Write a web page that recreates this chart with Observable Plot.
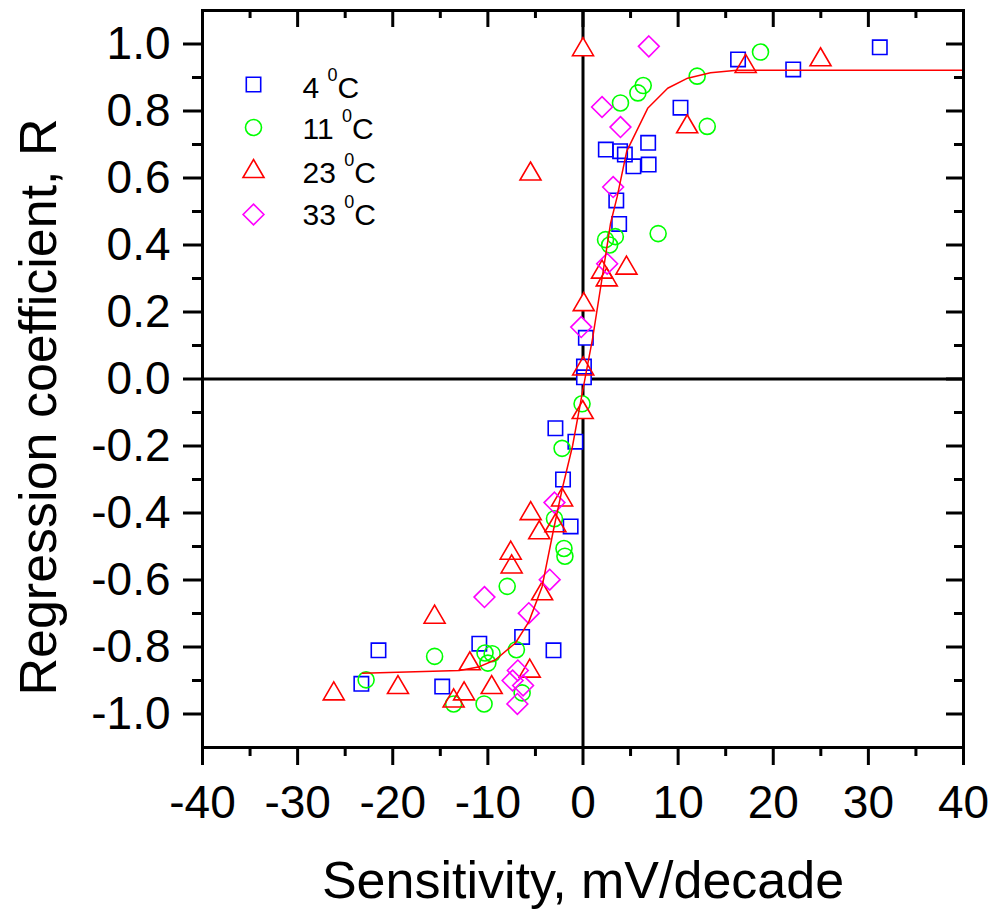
<!DOCTYPE html>
<html><head><meta charset="utf-8">
<script src="https://cdn.jsdelivr.net/npm/d3@7"></script>
<script src="https://cdn.jsdelivr.net/npm/@observablehq/plot@0.6"></script>
<style>html,body{margin:0;padding:0;background:#fff;} #chart{width:997px;height:913px;}</style>
</head><body><div id="chart"></div><script>
// ---- data ----
const seriesKeys = ["4", "11", "23", "33"];
const seriesColors = ["#0000ff", "#00ff00", "#ff0000", "#ff00ff"];

const x4 = [31.2, 16.3, 22.1, 10.25, 6.85, 2.4, 3.9, 4.4, 5.3, 6.9, 3.5, 3.8, 0.3, 0.1, 0.1, -2.9, -0.8, -2.1, -1.3, -21.5, -23.3, -14.8, -10.9, -6.4, -3.1];
const y4 = [0.99, 0.954, 0.924, 0.81, 0.705, 0.685, 0.68, 0.67, 0.635, 0.64, 0.533, 0.463, 0.123, 0.037, 0.005, -0.147, -0.187, -0.30, -0.44, -0.81, -0.91, -0.918, -0.79, -0.77, -0.81];

const x11 = [18.66, 12.0, 6.33, 5.77, 3.94, 13.06, 7.9, 2.37, 3.4, 2.8, -0.1, -2.2, -3.0, -2.0, -1.9, -7.97, -15.6, -22.8, -10.3, -9.55, -10.0, -7.0, -13.6, -10.4, -6.4];
const y11 = [0.976, 0.904, 0.876, 0.854, 0.824, 0.754, 0.434, 0.416, 0.425, 0.40, -0.074, -0.207, -0.417, -0.506, -0.529, -0.619, -0.828, -0.898, -0.818, -0.82, -0.848, -0.808, -0.97, -0.97, -0.937];

const x23 = [0.0, 10.95, 17.1, 24.97, -5.52, 4.57, 2.0, 2.5, 0.08, 0.02, -0.03, -5.5, -4.6, -2.9, -7.6, -7.5, -4.3, -2.2, -15.6, -26.2, -19.45, -11.9, -13.6, -12.5, -9.6, -5.6];
const y23 = [0.983, 0.753, 0.933, 0.953, 0.612, 0.331, 0.319, 0.296, 0.222, 0.030, -0.10, -0.402, -0.459, -0.438, -0.52, -0.561, -0.641, -0.361, -0.711, -0.94, -0.921, -0.85, -0.961, -0.94, -0.921, -0.872];

const x33 = [6.92, 2.0, 3.94, 3.17, 2.54, -0.19, -3.0, -3.5, -10.36, -5.7, -6.85, -7.4, -6.3, -6.9];
const y33 = [0.993, 0.812, 0.752, 0.573, 0.344, 0.155, -0.369, -0.599, -0.651, -0.699, -0.87, -0.90, -0.915, -0.97];

const fitX = [-23.2, -13.0, -11.0, -9.2, -7.1, -5.7, -4.3, -3.1, -2.2, -1.1, 0.0, 1.0, 2.0, 2.9, 3.6, 4.6, 6.8, 8.9, 11.0, 13.4, 16.2, 40];
const fitY = [-0.878, -0.870, -0.860, -0.838, -0.788, -0.725, -0.620, -0.450, -0.330, -0.200, -0.030, 0.120, 0.300, 0.465, 0.545, 0.680, 0.808, 0.868, 0.898, 0.914, 0.922, 0.922];

const xMajor = [-40, -30, -20, -10, 0, 10, 20, 30, 40];
const xTickLabels = ["-40", "-30", "-20", "-10", "0", "10", "20", "30", "40"];
const xMinor = [-35, -25, -15, -5, 5, 15, 25, 35];
const yMajor = [-1.0, -0.8, -0.6, -0.4, -0.2, 0.0, 0.2, 0.4, 0.6, 0.8, 1.0];
const yTickLabels = ["-1.0", "-0.8", "-0.6", "-0.4", "-0.2", "0.0", "0.2", "0.4", "0.6", "0.8", "1.0"];
const yMinor = [-0.9, -0.7, -0.5, -0.3, -0.1, 0.1, 0.3, 0.5, 0.7, 0.9];

const xTitle = "Sensitivity, mV/decade";
const yTitle = "Regression coefficient, R";

// ---- symbols ----
const sqSym = {draw(c, size) { const s = Math.sqrt(size / Math.PI) * 0.9; c.moveTo(-s, -s); c.lineTo(s, -s); c.lineTo(s, s); c.lineTo(-s, s); c.closePath(); }};
const ciSym = {draw(c, size) { const u = Math.sqrt(size / Math.PI); c.moveTo(u, 0); c.arc(0, 0, u, 0, 2 * Math.PI); c.closePath(); }};
const trSym = {draw(c, size) { const u = Math.sqrt(size / Math.PI); c.moveTo(0, -1.5 * u); c.lineTo(1.3125 * u, 0.75 * u); c.lineTo(-1.3125 * u, 0.75 * u); c.closePath(); }};
const diSym = {draw(c, size) { const u = Math.sqrt(size / Math.PI) * 1.3; c.moveTo(0, -u); c.lineTo(u, 0); c.lineTo(0, u); c.lineTo(-u, 0); c.closePath(); }};
const seriesSymbols = [sqSym, ciSym, trSym, diSym];

const xs = [x4, x11, x23, x33];
const ys = [y4, y11, y23, y33];

// ---- layout ----
const W = 997, H = 913, mL = 202, mR = 34, mT = 10, mB = 166;
const fW = W - mL - mR, fH = H - mT - mB;
const R = 8, SW = 1.6;

const marks = [];
marks.push(Plot.ruleX([0], {stroke: "black", strokeWidth: 3}));
marks.push(Plot.ruleY([0], {stroke: "black", strokeWidth: 3}));

const pts = i => xs[i].map((x, j) => ({x, y: ys[i][j]}));
seriesKeys.forEach((k, i) => marks.push(Plot.dot(pts(i), {x: "x", y: "y", symbol: seriesSymbols[i], r: R, fill: "white", stroke: "none"})));
seriesKeys.forEach((k, i) => marks.push(Plot.dot(pts(i), {x: "x", y: "y", symbol: seriesSymbols[i], r: R, fill: "none", stroke: seriesColors[i], strokeWidth: SW})));

marks.push(Plot.line(fitX.map((x, i) => ({x, y: fitY[i]})), {x: "x", y: "y", stroke: "#ff0000", strokeWidth: 1.5}));

marks.push(Plot.frame({stroke: "black", strokeWidth: 3}));

// ticks
marks.push(Plot.ruleX(xMinor, {insetTop: fH, insetBottom: -9, strokeWidth: 3, stroke: "black"}));
marks.push(Plot.ruleX(xMajor, {insetBottom: fH - 17, strokeWidth: 3, stroke: "black"}));
marks.push(Plot.ruleX(xMinor, {insetBottom: fH - 8, strokeWidth: 3, stroke: "black"}));
marks.push(Plot.ruleY(yMinor, {insetLeft: -10, insetRight: fW, strokeWidth: 3, stroke: "black"}));
marks.push(Plot.ruleY(yMajor, {insetLeft: fW - 17, strokeWidth: 3, stroke: "black"}));
marks.push(Plot.ruleY(yMinor, {insetLeft: fW - 9, strokeWidth: 3, stroke: "black"}));

marks.push(Plot.axisX({anchor: "bottom", ticks: xMajor, tickSize: 18, tickPadding: 20, strokeWidth: 3,
  tickFormat: d => xTickLabels[xMajor.indexOf(d)], label: null, fontSize: 46}));
marks.push(Plot.axisY({anchor: "left", ticks: yMajor, tickSize: 19, tickPadding: 13, strokeWidth: 3,
  tickFormat: d => yTickLabels[yMajor.findIndex(v => Math.abs(v - d) < 1e-9)], label: null, fontSize: 46}));

marks.push(Plot.text([xTitle], {frameAnchor: "bottom", dy: 150, lineAnchor: "bottom", textAnchor: "middle", fontSize: 52, text: d => d}));
marks.push(Plot.text([yTitle], {frameAnchor: "left", rotate: -90, dx: -147, dy: 28, lineAnchor: "bottom", textAnchor: "middle", fontSize: 52, text: d => d}));

// legend
const legSymDy = [74, 117, 161, 204];
const legTextDy = [87, 128, 172, 214];
seriesKeys.forEach((k, i) => {
  marks.push(Plot.dot([k], {frameAnchor: "top-left", dx: 51, dy: legSymDy[i], symbol: seriesSymbols[i], r: R, fill: "none", stroke: seriesColors[i], strokeWidth: SW}));
  marks.push(Plot.text([k], {frameAnchor: "top-left", dx: 100, dy: legTextDy[i], text: d => d + " 0C", textAnchor: "start", lineAnchor: "bottom", fontSize: 30}));
});

const svg = Plot.plot({
  width: W, height: H,
  marginLeft: mL, marginRight: mR, marginTop: mT, marginBottom: mB,
  x: {domain: [-40, 40], axis: null},
  y: {domain: [-1.1, 1.1], axis: null},
  style: {fontFamily: "'Liberation Sans', Arial, sans-serif", fontSize: "46px", color: "black", background: "white", overflow: "visible"},
  marks
});

// superscript degree-zero in legend labels
const ns = "http://www.w3.org/2000/svg";
svg.querySelectorAll("text").forEach(el => {
  const m = /^(\d+) 0C$/.exec(el.textContent);
  if (!m) return;
  el.textContent = "";
  const a = document.createElementNS(ns, "tspan"); a.textContent = m[1] + " ";
  const b = document.createElementNS(ns, "tspan"); b.textContent = "0"; b.setAttribute("font-size", "18"); b.setAttribute("dy", "-17");
  const c = document.createElementNS(ns, "tspan"); c.textContent = "C"; c.setAttribute("dy", "17");
  el.append(a, b, c);
});

document.getElementById("chart").appendChild(svg);
</script></body></html>
